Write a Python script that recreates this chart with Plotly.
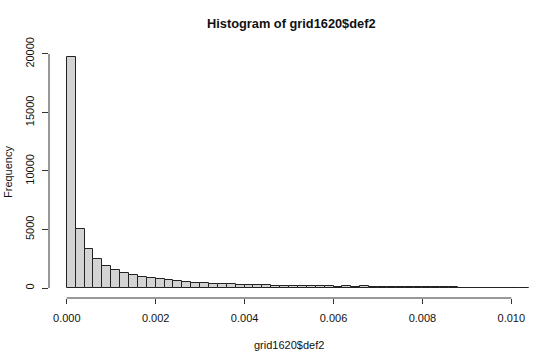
import plotly.graph_objects as go

# Histogram data (bin width 0.0002, starting at 0)
bin_width = 0.0002
bin_start = 0.0
counts = [19700, 5050, 3370, 2480, 1860, 1540, 1300, 1130, 960, 850,
          770, 650, 570, 520, 470, 430, 380, 350, 330, 300,
          270, 250, 240, 210, 200, 190, 180, 175, 165, 150,
          90, 170, 100, 160, 95, 90, 85, 80, 80, 75,
          70, 65, 60, 55, 10, 8, 5, 4, 3, 2,
          2, 1]
x_ticks = [0.0, 0.002, 0.004, 0.006, 0.008, 0.010]
x_tick_labels = ["0.000", "0.002", "0.004", "0.006", "0.008", "0.010"]
y_ticks = [0, 5000, 10000, 15000, 20000]
y_tick_labels = ["0", "5000", "10000", "15000", "20000"]
title = "Histogram of grid1620$def2"
x_title = "grid1620$def2"
y_title = "Frequency"

centers = [bin_start + (i + 0.5) * bin_width for i in range(len(counts))]

FONT = "Liberation Sans, Arial, sans-serif"
AX = "#333333"

fig = go.Figure()
fig.add_trace(go.Bar(
    x=centers, y=counts, width=bin_width,
    marker=dict(color="#D3D3D3", line=dict(color="#222222", width=1)),
    hoverinfo="x+y",
))

W, H = 540, 352
L, R, T, B = 49, 2, 30, 54

fig.update_layout(
    width=W, height=H,
    margin=dict(l=L, r=R, t=T, b=B, pad=0),
    plot_bgcolor="white", paper_bgcolor="white",
    showlegend=False, bargap=0,
    font=dict(family=FONT, size=11, color="#111111"),
    xaxis=dict(
        range=[-0.0004, 0.0106], showgrid=False, zeroline=False, showline=False,
        tickmode="array", tickvals=x_ticks, ticktext=x_tick_labels,
        ticks="outside", ticklen=5, tickcolor=AX, tickwidth=1,
        ticklabelstandoff=5, tickfont=dict(size=11, family=FONT),
    ),
    yaxis=dict(
        range=[-854, 22048], showgrid=False, zeroline=False, showline=False,
        tickmode="array", tickvals=y_ticks, ticktext=y_tick_labels,
        ticks="outside", ticklen=6, tickcolor=AX, tickwidth=1,
        tickangle=-90, ticklabelstandoff=4, tickfont=dict(size=11, family=FONT),
    ),
    shapes=[
        dict(type="line", xref="x", yref="paper", x0=x_ticks[0], x1=x_ticks[-1],
             y0=0, y1=0, line=dict(color=AX, width=1)),
        dict(type="line", xref="paper", yref="y", x0=0, x1=0,
             y0=y_ticks[0], y1=y_ticks[-1], line=dict(color=AX, width=1)),
    ],
    annotations=[
        dict(text="<b>" + title + "</b>", xref="paper", yref="paper",
             x=(291 - L) / (W - L - R), y=1 + (T - 23.5) / (H - T - B),
             xanchor="center", yanchor="middle", showarrow=False,
             font=dict(size=12.8, family=FONT, color="#111111")),
        dict(text=x_title, xref="paper", yref="paper",
             x=(289 - L) / (W - L - R), y=-(345 - (H - B)) / (H - T - B),
             xanchor="center", yanchor="middle", showarrow=False,
             font=dict(size=11, family=FONT, color="#111111")),
        dict(text=y_title, xref="paper", yref="paper", textangle=-90,
             x=-(L - 8) / (W - L - R), y=(H - B - 172) / (H - T - B),
             xanchor="center", yanchor="middle", showarrow=False,
             font=dict(size=11, family=FONT, color="#111111")),
    ],
)

fig.write_html(
    "out.html",
    config={"displayModeBar": False},
    post_script="document.body.style.margin='0';document.body.style.overflow='hidden';",
)
